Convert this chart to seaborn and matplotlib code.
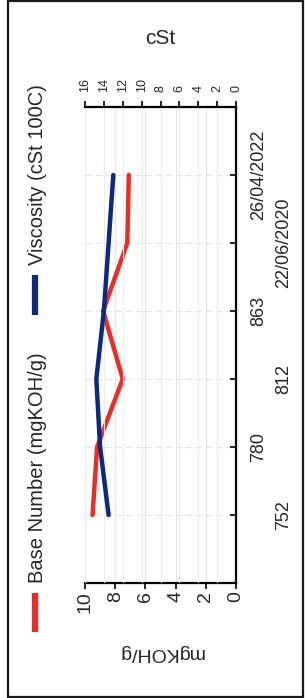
# Rotated (scanned) oil-analysis trend chart: Base Number vs Viscosity
import matplotlib
matplotlib.use("Agg")
import matplotlib.pyplot as plt
from matplotlib.lines import Line2D
from matplotlib.patches import Rectangle
import seaborn as sns

# Data
samples = ["752", "780", "812", "863", "22/06/2020", "26/04/2022"]
base_number = [9.5, 9.2, 7.5, 8.8, 7.2, 7.1]      # mgKOH/g
viscosity = [13.5, 14.4, 14.8, 14.0, 13.5, 13.0]  # cSt 100C
bn_ticks = [10, 8, 6, 4, 2, 0]
visc_ticks = [16, 14, 12, 10, 8, 6, 4, 2, 0]

sns.set_style("white")
plt.rcParams["font.family"] = ["Liberation Sans", "DejaVu Sans"]

red = "#ee2b24"
blue = "#0b2a7e"

fig = plt.figure(figsize=(3.05, 6.98), dpi=100)
W, H = 305, 698
ax = fig.add_axes([85 / W, 1 - 583 / H, 151 / W, 476 / H])
ax2 = ax.twiny()

idx = list(range(len(samples)))

# faint grid
for v in bn_ticks:
    ax.axvline(v, color="#e4e4e4", lw=0.8, zorder=0)
for v in visc_ticks:
    ax2.axvline(v, color="#ececec", lw=0.8, zorder=0)
for i in idx:
    ax.axhline(i, color="#e4e4e4", lw=0.8, ls=(0, (6, 3)), zorder=0)

sns.lineplot(x=base_number, y=idx, orient="y", sort=False, estimator=None,
             color=red, lw=3.2, ax=ax)
sns.lineplot(x=viscosity, y=idx, orient="y", sort=False, estimator=None,
             color=blue, lw=3.2, ax=ax2)

# mgKOH/g axis (bottom)
ax.set_xlim(10, 0)
ax.set_xticks(bn_ticks)
ax.set_xticklabels([str(t) for t in bn_ticks], rotation=90, fontsize=14)
ax.set_xlabel("mgKOH/g", rotation=180, fontsize=14, labelpad=22)

# category axis (right)
ax.set_ylim(-1, 6)
ax.yaxis.tick_right()
ax.set_yticks(idx)
ax.set_yticklabels(samples, rotation=90, va="center", fontsize=13)
for i, tick in enumerate(ax.yaxis.get_major_ticks()):
    tick.set_pad(28 if i % 2 == 0 else 10)
ax.set_ylabel("")

# cSt axis (top)
ax2.set_xlim(16, 0)
ax2.set_xticks(visc_ticks)
ax2.set_xticklabels([str(t) for t in visc_ticks], rotation=90, fontsize=9)
ax2.set_xlabel("cSt", fontsize=15, labelpad=24)

for a in (ax, ax2):
    for s in a.spines.values():
        s.set_visible(False)
    a.tick_params(length=4, width=1.2, color="black")
ax.spines["bottom"].set_visible(True)
ax.spines["right"].set_visible(True)
ax2.spines["top"].set_visible(True)
for s in (ax.spines["bottom"], ax.spines["right"], ax2.spines["top"]):
    s.set_color("black")
    s.set_linewidth(1.6)
ax.tick_params(axis="y", direction="in", length=4)
ax.tick_params(axis="x", pad=2)
ax2.tick_params(axis="x", pad=7)

# legend, drawn rotated like the rest of the scan
fig.add_artist(Line2D([35 / W, 35 / W], [1 - 632 / H, 1 - 593 / H], color=red,
                      lw=4.5, solid_capstyle="butt"))
fig.text(38 / W, 1 - 583 / H, "Base Number (mgKOH/g)", rotation=90,
         ha="center", va="bottom", fontsize=14.5)
fig.add_artist(Line2D([35 / W, 35 / W], [1 - 315 / H, 1 - 275 / H], color=blue,
                      lw=4.5, solid_capstyle="butt"))
fig.text(38 / W, 1 - 265 / H, "Viscosity (cSt 100C)", rotation=90,
         ha="center", va="bottom", fontsize=14.5)

# page frame
fig.add_artist(Rectangle((8 / W, 1 / H), 295 / W, 696 / H, fill=False,
                         edgecolor="#1a1a1a", lw=1.6, transform=fig.transFigure))

fig.savefig("out.png", dpi=100)
